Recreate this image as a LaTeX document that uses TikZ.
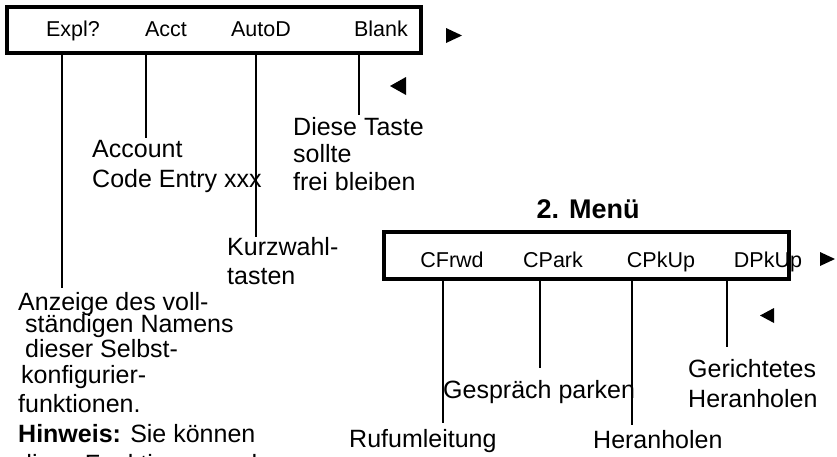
\documentclass[tikz,border=0pt]{standalone}
\usepackage{fontspec}
\setmainfont{Liberation Sans}
\begin{document}
\begin{tikzpicture}[x=1pt,y=-1pt,
  menubox/.style={draw,line width=3.2pt,inner sep=0pt},
  keylbl/.style={anchor=base,inner sep=0pt,font=\fontsize{21.5}{24}\selectfont},
  lbl/.style={anchor=base west,inner sep=0pt,font=\fontsize{25}{28}\selectfont},
  conn/.style={line width=1.6pt},
  tri/.style={fill=black}]
\useasboundingbox (0,0) rectangle (837,456);
\clip (0,0) rectangle (837,456);
% first menu
\node[menubox,minimum width=414pt,minimum height=46pt] (box1) at (214,30) {};
\node[keylbl] (k1) at (73,36) {Expl?};
\node[keylbl] (k2) at (166,36) {Acct};
\node[keylbl] (k3) at (261,36) {AutoD};
\node[keylbl] (k4) at (381,36) {Blank};
\fill[tri] (446,28) -- (462,35.5) -- (446,43) -- cycle;
\fill[tri] (406,77) -- (390,86) -- (406,95) -- cycle;
% labels first menu
\node[lbl] (acc1) at (92,157) {Account};
\node[lbl] (acc2) at (92,187) {Code Entry xxx};
\node[lbl] (dt1) at (293,135) {Diese Taste};
\node[lbl] (dt2) at (293,162) {sollte};
\node[lbl] (dt3) at (293,190) {frei bleiben};
\node[lbl] (kw1) at (227,255) {Kurzwahl-};
\node[lbl] (kw2) at (227,284) {tasten};
\node[lbl] (an1) at (18,310) {Anzeige des voll-};
\node[lbl] (an2) at (25,332) {ständigen Namens};
\node[lbl] (an3) at (25,357) {dieser Selbst-};
\node[lbl] (an4) at (21,383) {konfigurier-};
\node[lbl] (an5) at (18,412) {funktionen.};
\node[lbl] (hw) at (18,442) {\textbf{Hinweis:} Sie können};
\node[lbl] (hw2) at (18,472) {diese Funktionen und};
% connector ends first menu
\coordinate (e1) at (62,288);
\coordinate (e2) at (146,138);
\coordinate (e3) at (256,237);
\coordinate (e4) at (359,115);
\draw[conn] (e1 |- box1.south) -- (e1);
\draw[conn] (e2 |- box1.south) -- (e2);
\draw[conn] (e3 |- box1.south) -- (e3);
\draw[conn] (e4 |- box1.south) -- (e4);
% second menu
\node[anchor=base,inner sep=0pt,font=\fontsize{27}{30}\selectfont\bfseries] (title) at (588,218) {2. Menü};
\node[menubox,minimum width=405pt,minimum height=47pt] (box2) at (586.5,255.5) {};
\node[keylbl] (m1) at (452,267) {CFrwd};
\node[keylbl] (m2) at (553,267) {CPark};
\node[keylbl] (m3) at (661,267) {CPkUp};
\node[keylbl] (m4) at (768,267) {DPkUp};
\fill[tri] (820,252) -- (835,259) -- (820,266) -- cycle;
\fill[tri] (774,308) -- (760,315.5) -- (774,323) -- cycle;
\node[lbl] (rf) at (349,447) {Rufumleitung};
\node[lbl] (gp) at (443,398) {Gespräch parken};
\node[lbl] (hh) at (593,448) {Heranholen};
\node[lbl] (gh1) at (688,377) {Gerichtetes};
\node[lbl] (gh2) at (688,407) {Heranholen};
\coordinate (f1) at (443,423);
\coordinate (f2) at (540,368);
\coordinate (f3) at (632,425);
\coordinate (f4) at (727,347);
\draw[conn] (f1 |- box2.south) -- (f1);
\draw[conn] (f2 |- box2.south) -- (f2);
\draw[conn] (f3 |- box2.south) -- (f3);
\draw[conn] (f4 |- box2.south) -- (f4);
\end{tikzpicture}
\end{document}
